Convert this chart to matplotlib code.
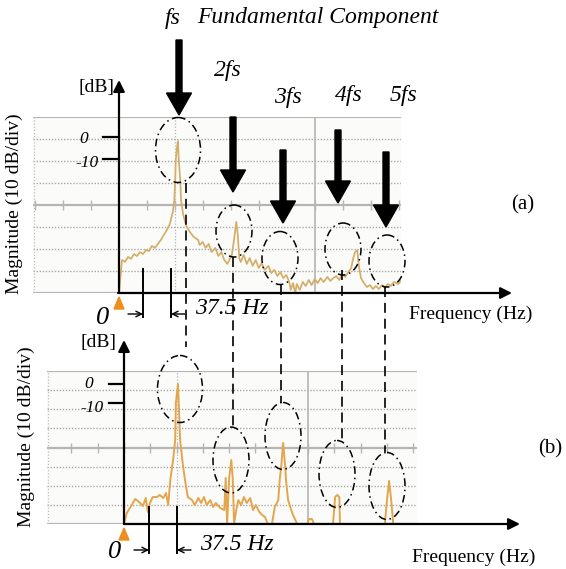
import numpy as np
import matplotlib
matplotlib.use('Agg')
import matplotlib.pyplot as plt
from matplotlib.patches import Ellipse, FancyArrow, Polygon
from matplotlib import transforms

plt.rcParams['font.family'] = ['Liberation Serif', 'DejaVu Serif']

# ---- spectrum (a): frequency [Hz], magnitude [dB] ----
freq_a = [0, 4, 8, 12, 16, 20, 24, 28, 32, 36, 40, 44, 48, 52, 56, 60, 64, 68, 72, 74,
          75, 76, 78, 79, 80, 82, 83, 86, 90, 95, 100, 106, 108, 112, 116, 120, 124, 129, 133, 137,
          141, 145, 149, 151, 154, 157, 159, 161, 163, 167, 171, 175, 179, 183, 187, 191, 195, 200, 204, 208,
          212, 216, 220, 224, 228, 230, 233, 236, 238, 242, 246, 250, 254, 258, 262, 266, 270, 274, 279, 283,
          287, 291, 295, 299, 303, 307, 311, 313, 316, 319, 321, 324, 328, 332, 336, 340, 344, 348, 352, 356,
          360, 364, 368, 374, 378]
mag_a = [-70, -55, -55.9, -53.6, -54.5, -52.3, -53.2, -51.4, -52.3, -50.5,
         -50.9, -48.6, -49.5, -47.7, -45.9, -43.6, -41.4, -38.6, -33.2, -27.7,
         -20.9, -9.5, -2.7, -0.9, -9.5, -18.6, -27.7, -34.5, -39.5, -42.3,
         -44.5, -45.9, -48.2, -46.8, -49.5, -47.7, -51.4, -49.5, -53.2, -51.4,
         -55, -56.8, -54.1, -52.7, -45.9, -37.7, -43.6, -54.1, -55.9, -52.7,
         -56.8, -54.1, -57.7, -55, -58.6, -56.4, -59.5, -57.7, -60.9, -59.5,
         -62.3, -60.5, -63.2, -61.8, -65, -68.6, -65.5, -70, -65.9, -68.6,
         -65, -66.8, -64.1, -66.4, -63.6, -65.5, -63.2, -65, -62.7, -64.5,
         -63.2, -62.3, -64.1, -61.4, -62.7, -60.5, -58.6, -55, -51.4, -50.5,
         -57.3, -63.2, -65.5, -67.3, -66.4, -68.2, -66.8, -68.2, -66.4, -67.7,
         -65.9, -66.8, -65, -65.9, -64.1]

# ---- spectrum (b) ----
freq_b = [0, 4, 11, 16, 23, 27, 31, 34, 37, 41, 47, 51, 56, 60, 63, 66, 70, 73, 74, 77,
          78, 80, 84, 87, 91, 97, 101, 106, 110, 114, 118, 123, 127, 131, 137, 143, 145, 147, 150, 153,
          155, 157, 160, 163, 167, 171, 175, 180, 184, 188, 193, 197, 201, 205, 211, 215, 220, 222, 224, 227,
          230, 231, 234, 237, 241, 247, 261, 264, 268, 271, 298, 301, 304, 307, 308, 372, 375, 378, 381, 384,
          418]
mag_b = [-70, -64.2, -60.1, -56.9, -59.0, -60.6, -56.4, -63.7, -59.0, -55.9,
         -55.9, -54.8, -56.4, -53.8, -60.1, -47.0, -36.5, -26.1, -6.7, 3.2,
         -6.7, -26.1, -39.2, -47.0, -55.9, -57.5, -60.1, -56.4, -59.0, -55.9,
         -60.1, -57.5, -61.1, -59.0, -61.6, -62.7, -45.9, -70, -45.9, -36.5,
         -45.9, -70, -62.7, -57.5, -60.1, -55.9, -59.0, -56.4, -62.7, -60.1,
         -63.7, -65.3, -66.3, -70, -70, -61.1, -57.5, -47.0, -40.7, -27.6,
         -40.7, -47.0, -57.5, -61.1, -65.3, -70, -70, -67.4, -67.4, -70,
         -70, -55.9, -54.8, -55.9, -70, -70, -57.5, -47.5, -57.5, -70,
         -70]

harm_labels = ['fs', '2fs', '3fs', '4fs', '5fs']
tick_db = [0, -10]
HZ_DIV = 37.5

W, H = 566, 569
fig = plt.figure(figsize=(W / 100, H / 100), dpi=100)


def box(x0, y0, x1, y1):
    return [x0 / W, 1 - y1 / H, (x1 - x0) / W, (y1 - y0) / H]


def draw_screen(ax, xlim):
    ax.set_xlim(*xlim)
    ax.set_ylim(-70, 10)
    ax.set_facecolor('#fbfbfa')
    for s in ax.spines.values():
        s.set_visible(False)
    ax.set_xticks([])
    ax.set_yticks([])
    for k, db in enumerate(range(10, -71, -10)):
        if k in (0, 4, 8):
            ax.axhline(db, color='#b5b5b5', lw=1.6, zorder=1)
        else:
            ax.axhline(db, color='#a9a9a9', lw=1.0, ls=(0, (1, 1.2)), zorder=1)
    ax.axvline(7 * HZ_DIV, color='#b5b5b5', lw=1.2, zorder=1)
    ax.axvline(2 * HZ_DIV, color='#b5b5b5', lw=0.9, ls=(0, (1, 1.5)), zorder=1)
    ax.axvline(xlim[0] + 1.5, color='#c0c0c0', lw=0.9, ls=(0, (1, 1.5)), zorder=1)
    divs = np.arange(-3, 12) * HZ_DIV
    ax.plot(divs, [-30] * len(divs), ls='none', marker='|', ms=7, mew=1.0,
            color='#b5b5b5', zorder=1)


# panel (a)
ax_a = fig.add_axes(box(33, 117, 401, 293), zorder=1)
draw_screen(ax_a, (-115.2, 377.6))
ax_a.plot(freq_a, mag_a, color='#d4ae68', lw=1.25, zorder=2)

# panel (b)
ax_b = fig.add_axes(box(47, 371, 417, 524), zorder=1)
draw_screen(ax_b, (-109.8, 417.8))
ax_b.plot(freq_b, mag_b, color='#e4a64c', lw=1.4, zorder=2)

# dB ticks on each y axis
for ax, dy in ((ax_a, 2), (ax_b, 6)):
    tr = transforms.offset_copy(ax.transData, fig, y=dy, units='dots')
    for db in tick_db:
        ax.plot([-22, 0], [db, db], color='k', lw=1.6, transform=tr, clip_on=False, zorder=4)

# ---- overlay for annotations (pixel coordinates) ----
ov = fig.add_axes([0, 0, 1, 1], zorder=5)
ov.set_xlim(0, W)
ov.set_ylim(H, 0)
ov.axis('off')


def axis_arrow(x0, y0, x1, y1):
    ov.annotate('', xy=(x1, y1), xytext=(x0, y0),
                arrowprops=dict(arrowstyle='-|>', color='k', lw=1.6,
                                mutation_scale=17, shrinkA=0, shrinkB=0))


def small_arrow(x0, x1, y):
    ov.annotate('', xy=(x1, y), xytext=(x0, y),
                arrowprops=dict(arrowstyle='->', color='k', lw=1.0,
                                mutation_scale=10, shrinkA=0, shrinkB=0))


ital = dict(style='italic', ha='center', va='center', color='k')

for (yax, ytop, ybot, xl, xr, tri_y, ylab_x, ylab_y, db_x, db_y,
     t0_y, t10_y, zero_x, zero_y, ticks, arr_y, hz_x, freq_x, freq_y,
     tag, tag_x, tag_y) in (
        (119, 80, 293, 118, 512, 303, 14, 204, 96, 87, 139, 163, 103, 318,
         (143, 171, 269, 317), 314, 232, 471, 314, '(a)', 523, 205),
        (124, 340, 524, 124, 520, 534, 26, 437, 99, 342, 384, 408, 115, 552,
         (149, 177, 507, 553), 550, 237, 474, 557, '(b)', 550, 449)):
    axis_arrow(yax, ybot, yax, ytop)
    axis_arrow(xl, ybot, xr, ybot)
    ov.add_patch(Polygon([[yax - 5, tri_y + 6], [yax + 5, tri_y + 6], [yax, tri_y - 6]],
                         closed=True, color='#ef8e1c', zorder=3))
    ov.text(ylab_x, ylab_y, 'Magnitude (10 dB/div)', rotation=90, ha='center',
            va='center', fontsize=14)
    ov.text(db_x, db_y, '[dB]', ha='center', va='center', fontsize=14)
    ov.text(yax - 35, t0_y, '0', fontsize=12.5, **ital)
    ov.text(yax - 32, t10_y, '-10', fontsize=12.5, **ital)
    ov.text(zero_x, zero_y, '0', fontsize=19, **ital)
    x1, x2, yt0, yt1 = ticks
    ov.plot([x1, x1], [yt0, yt1], color='k', lw=1.4)
    ov.plot([x2, x2], [yt0, yt1], color='k', lw=1.4)
    small_arrow(x1 - 15, x1, arr_y)
    small_arrow(x2 + 14, x2, arr_y)
    ov.text(hz_x, arr_y - 6, '37.5 Hz', fontsize=17, **ital)
    ov.text(freq_x, freq_y, 'Frequency (Hz)', ha='center', va='center', fontsize=14)
    ov.text(tag_x, tag_y, tag, ha='center', va='center', fontsize=15)

# harmonic arrows, labels, ellipses and connectors
arrow_x = [179, 233, 283, 338, 386]
arrow_top = [40, 117, 150, 130, 152]
arrow_tip = [115, 192, 223, 203, 227]
label_xy = [(173, 18), (228, 70), (288, 97), (349, 95), (404, 95)]
ell_a = [(178, 150, 45, 65), (234, 231, 36, 52), (280, 258, 36, 53),
         (343, 249, 36, 52), (387, 261, 36, 52)]
ell_b = [(180, 389, 45, 67), (231, 460, 36, 66), (283, 436, 36, 67),
         (337, 474, 36, 67), (387, 486, 36, 67)]
link = [(186, 183, 347), (233, 257, 428), (281, 285, 403), (342, 270, 441),
        (385, 287, 452)]

for i, lab in enumerate(harm_labels):
    ov.add_patch(FancyArrow(arrow_x[i], arrow_top[i], 0, arrow_tip[i] - arrow_top[i],
                            width=6, head_width=25, head_length=22,
                            length_includes_head=True, color='k', zorder=4))
    ov.text(*label_xy[i], lab, fontsize=17, **ital)
    for (cx, cy, w, h) in (ell_a[i], ell_b[i]):
        ov.add_patch(Ellipse((cx, cy), w, h, fill=False, ec='k', lw=1.1,
                             ls=(0, (5, 2.5, 1, 2.5)), zorder=4))
    lx, ly0, ly1 = link[i]
    ov.plot([lx, lx], [ly0, ly1], color='k', lw=1.2, ls=(0, (6, 3.5)), zorder=4)

ov.text(197, 17, 'Fundamental Component', style='italic', ha='left', va='center',
        fontsize=17)

fig.savefig('out.png', dpi=100)
